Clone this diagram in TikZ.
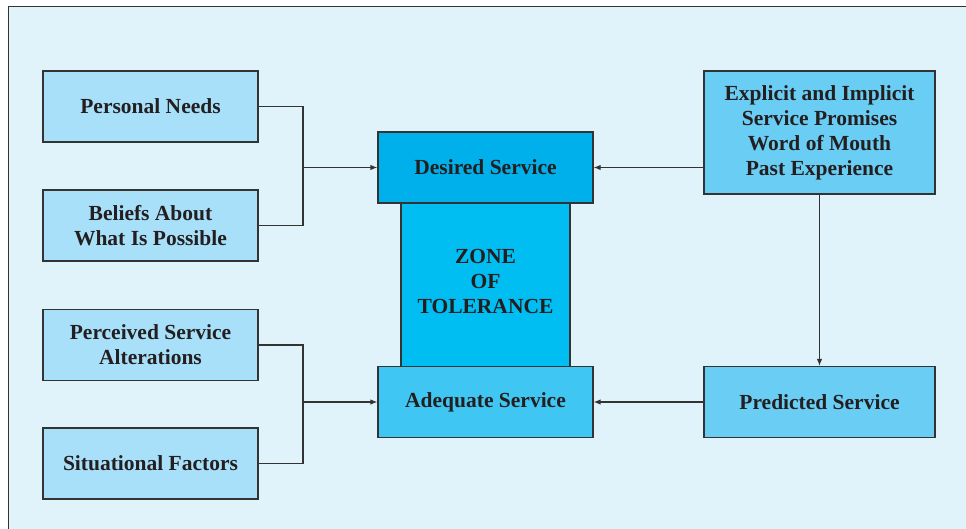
\documentclass[tikz,border=0pt]{standalone}
\usepackage{fontspec}
\setmainfont{Liberation Serif}
\usetikzlibrary{arrows.meta}
\definecolor{bgc}{HTML}{E0F2FA}
\definecolor{lightbox}{HTML}{A8E0FA}
\definecolor{desc}{HTML}{00B0EA}
\definecolor{zonec}{HTML}{00BDF2}
\definecolor{adeqc}{HTML}{40C6F2}
\definecolor{rightc}{HTML}{6ACDF4}
\definecolor{linec}{HTML}{333333}
\definecolor{txtc}{HTML}{231F20}
\tikzset{
  lbl/.style={align=center, font=\fontsize{21.5}{25}\selectfont\bfseries, text=txtc},
  box/.style={lbl, draw=linec, line width=1.2pt, minimum width=215pt, minimum height=71pt, inner sep=0pt},
  conn/.style={draw=linec, line width=1.2pt},
  arr/.style={conn, -{Latex[length=7pt,width=5.5pt]}}
}
\begin{document}
\begin{tikzpicture}[x=1pt,y=-1pt]
\useasboundingbox (0,0) rectangle (966,528);
\fill[white] (0,0) rectangle (966,528);
\draw[fill=bgc, draw=linec, line width=1.2pt] (8.5,6.5) rectangle (975,540);
% left boxes
\node[box, fill=lightbox] (pn) at (150.5,106.5) {Personal Needs};
\node[box, fill=lightbox] (ba) at (150.5,225.5) {Beliefs About\\What Is Possible};
\node[box, fill=lightbox] (ps) at (150.5,345) {Perceived Service\\Alterations};
\node[box, fill=lightbox] (sf) at (150.5,463.5) {Situational Factors};
% zone
\node[box, fill=zonec, minimum width=169pt, minimum height=164pt] (zt) at (485.5,285) {};
\node[lbl] (ztl) at ([yshift=4pt]zt.center) {ZONE\\OF\\TOLERANCE};
\node[box, fill=desc] (ds) at (485.5,167.5) {Desired Service};
\node[box, fill=adeqc] (as) at (485.5,402) {Adequate Service};
% right boxes
\node[box, fill=rightc, minimum width=231pt, minimum height=123pt] (ex) at (819.5,132.5) {Explicit and Implicit\\Service Promises\\Word of Mouth\\Past Experience};
\node[box, fill=rightc, minimum width=231pt] (pr) at (819.5,402) {Predicted Service};
% connectors
\coordinate (j1) at (303,167.5);
\coordinate (j2) at (303,402);
\draw[conn] (pn.east) -| (j1) |- (ba.east);
\draw[arr] (j1) -- (ds.west);
\draw[conn] (ps.east) -| (j2) |- (sf.east);
\draw[arr] (j2) -- (as.west);
\draw[arr] (ex.west |- ds.east) -- (ds.east);
\draw[arr] (ex.south) -- (pr.north);
\draw[arr] (pr.west) -- (as.east);
\end{tikzpicture}
\end{document}
